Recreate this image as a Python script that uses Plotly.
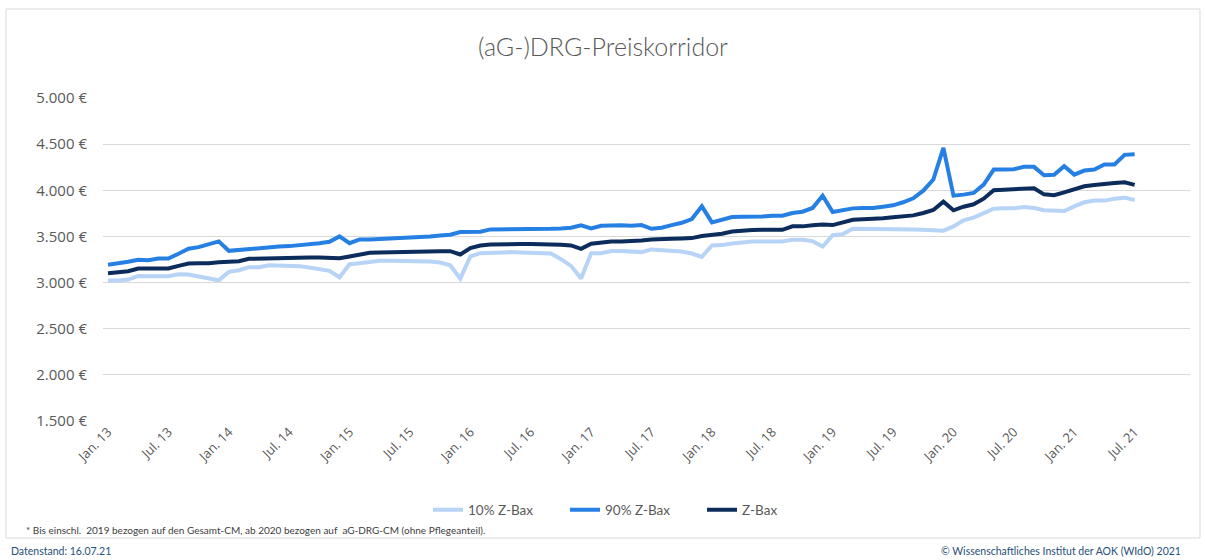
import plotly.graph_objects as go

# Monatskategorien Jan. 13 .. Dez. 21 (Achse reicht bis Dez. 21, Daten bis Jul. 21)
MONTHS_DE = ["Jan.", "Feb.", "Mrz.", "Apr.", "Mai", "Jun.",
             "Jul.", "Aug.", "Sep.", "Okt.", "Nov.", "Dez."]
categories = [f"{m} {y:02d}" for y in range(13, 22) for m in MONTHS_DE]

p10 = [3022, 3022, 3033, 3072, 3069, 3069, 3069, 3091, 3087, 3065, 3043, 3025,
       3116, 3134, 3167, 3167, 3188, 3188, 3185, 3178, 3163, 3145, 3127, 3058,
       3199, 3210, 3228, 3236, 3236, 3236, 3236, 3232, 3228, 3217, 3188, 3043,
       3283, 3319, 3326, 3330, 3330, 3326, 3322, 3319, 3315, 3254, 3181, 3043,
       3319, 3319, 3341, 3341, 3338, 3330, 3359, 3351, 3348, 3337, 3315, 3279,
       3402, 3406, 3424, 3438, 3446, 3446, 3446, 3446, 3464, 3464, 3449, 3391,
       3514, 3525, 3583, 3583, 3583, 3583, 3583, 3580, 3576, 3572, 3565, 3562,
       3609, 3674, 3703, 3754, 3801, 3804, 3804, 3819, 3808, 3783, 3779, 3775,
       3826, 3870, 3888, 3888, 3909, 3920, 3895]

p90 = [3192, 3206, 3225, 3246, 3243, 3261, 3261, 3312, 3366, 3384, 3417, 3446,
       3344, 3355, 3366, 3373, 3380, 3391, 3395, 3402, 3413, 3427, 3442, 3500,
       3427, 3467, 3467, 3471, 3475, 3482, 3493, 3496, 3500, 3511, 3518, 3547,
       3551, 3551, 3576, 3576, 3576, 3576, 3576, 3580, 3583, 3587, 3594, 3620,
       3587, 3616, 3620, 3620, 3616, 3623, 3583, 3594, 3623, 3648, 3688, 3826,
       3652, 3681, 3710, 3714, 3714, 3717, 3725, 3725, 3754, 3768, 3808, 3942,
       3764, 3786, 3804, 3808, 3808, 3822, 3837, 3870, 3913, 3996, 4116, 4460,
       3942, 3953, 3971, 4062, 4225, 4225, 4228, 4254, 4254, 4163, 4167, 4261,
       4170, 4214, 4225, 4279, 4279, 4384, 4391]

zbax = [3101, 3109, 3123, 3152, 3152, 3152, 3152, 3181, 3206, 3210, 3210, 3221,
        3225, 3232, 3257, 3261, 3264, 3268, 3268, 3272, 3272, 3272, 3272, 3264,
        3283, 3301, 3322, 3326, 3330, 3333, 3333, 3336, 3340, 3340, 3340, 3304,
        3373, 3402, 3413, 3417, 3417, 3417, 3417, 3417, 3413, 3409, 3402, 3366,
        3420, 3435, 3446, 3446, 3449, 3456, 3467, 3467, 3475, 3478, 3482, 3504,
        3518, 3529, 3554, 3565, 3569, 3572, 3576, 3572, 3609, 3609, 3620, 3630,
        3623, 3652, 3681, 3685, 3688, 3696, 3707, 3714, 3728, 3754, 3786, 3877,
        3783, 3822, 3848, 3909, 4000, 4007, 4011, 4022, 4022, 3956, 3946, 3978,
        4007, 4043, 4058, 4072, 4080, 4087, 4058]

tick_labels = categories[0:103:6]
y_ticks = [1500, 2000, 2500, 3000, 3500, 4000, 4500, 5000]
y_text = [f"{v:,}".replace(",", ".") + " €" for v in y_ticks]

TXT = "#595959"
GRID = "#d9d9d9"

fig = go.Figure()
fig.add_trace(go.Scatter(x=categories[:len(p10)], y=p10, name="10% Z-Bax", mode="lines",
                         line=dict(color="#b7d3f6", width=4)))
fig.add_trace(go.Scatter(x=categories[:len(p90)], y=p90, name="90% Z-Bax", mode="lines",
                         line=dict(color="#2680e3", width=4)))
fig.add_trace(go.Scatter(x=categories[:len(zbax)], y=zbax, name="Z-Bax", mode="lines",
                         line=dict(color="#0c2c5c", width=4)))

# plot area in pixels: x 103..1190, y 98..421
L, R, T, B = 103, 1190, 98, 421
W, H = R - L, B - T


def px(x):
    return (x - L) / W


def py(y):
    return (B - y) / H


fig.update_layout(
    width=1205, height=560,
    margin=dict(l=L, r=1205 - R, t=T, b=560 - B, autoexpand=False),
    paper_bgcolor="white", plot_bgcolor="white",
    font=dict(family="Open Sans", color=TXT),
    title=dict(text="(aG-)DRG-Preiskorridor", x=603 / 1205, xref="container", xanchor="center",
               y=1 - 47 / 560, yref="container", yanchor="middle",
               font=dict(family="Lato", size=25, weight=300, color=TXT)),
    showlegend=True,
    legend=dict(orientation="h", x=px(428), xanchor="left", y=py(510), yanchor="middle",
                font=dict(family="Lato", size=13.5, color=TXT), itemwidth=30,
                entrywidth=92, entrywidthmode="pixels", tracegroupgap=0),
    shapes=[dict(type="rect", xref="paper", yref="paper",
                 x0=px(6), x1=px(1200), y0=py(538), y1=py(9),
                 line=dict(color=GRID, width=1), fillcolor="rgba(0,0,0,0)", layer="below")],
    annotations=[
        dict(text="* Bis einschl.  2019 bezogen auf den Gesamt-CM, ab 2020 bezogen auf  aG-DRG-CM (ohne Pflegeanteil).",
             xref="paper", yref="paper", x=px(24), y=py(530), xanchor="left", yanchor="middle",
             showarrow=False, font=dict(family="Lato", size=10, color="#404040")),
        dict(text="Datenstand: 16.07.21",
             xref="paper", yref="paper", x=px(9), y=py(551), xanchor="left", yanchor="middle",
             showarrow=False, font=dict(family="Lato", size=10.5, color="#1f4e79")),
        dict(text="© Wissenschaftliches Institut der AOK (WIdO) 2021",
             xref="paper", yref="paper", x=px(1183), y=py(551), xanchor="right", yanchor="middle",
             showarrow=False, font=dict(family="Lato", size=10.5, color="#1f4e79")),
    ],
)

fig.update_xaxes(type="category", categoryorder="array", categoryarray=categories,
                 range=[-0.5, len(categories) - 0.5],
                 tickmode="array", tickvals=tick_labels, ticktext=tick_labels,
                 tickangle=-45, tickfont=dict(family="Open Sans", size=13, color=TXT),
                 showgrid=False, showline=False, ticks="", zeroline=False)
fig.update_yaxes(range=[1500, 5000], tickmode="array", tickvals=y_ticks, ticktext=y_text,
                 showgrid=True, gridcolor=GRID, gridwidth=1,
                 tickfont=dict(family="Open Sans", size=15, color=TXT), ticks="",
                 ticklabelstandoff=15, zeroline=False, showline=False)

# page body margin removed so the figure sits at the window origin
fig.write_html("out.html", config={"displayModeBar": False},
               post_script="document.body.style.margin='0px';")
